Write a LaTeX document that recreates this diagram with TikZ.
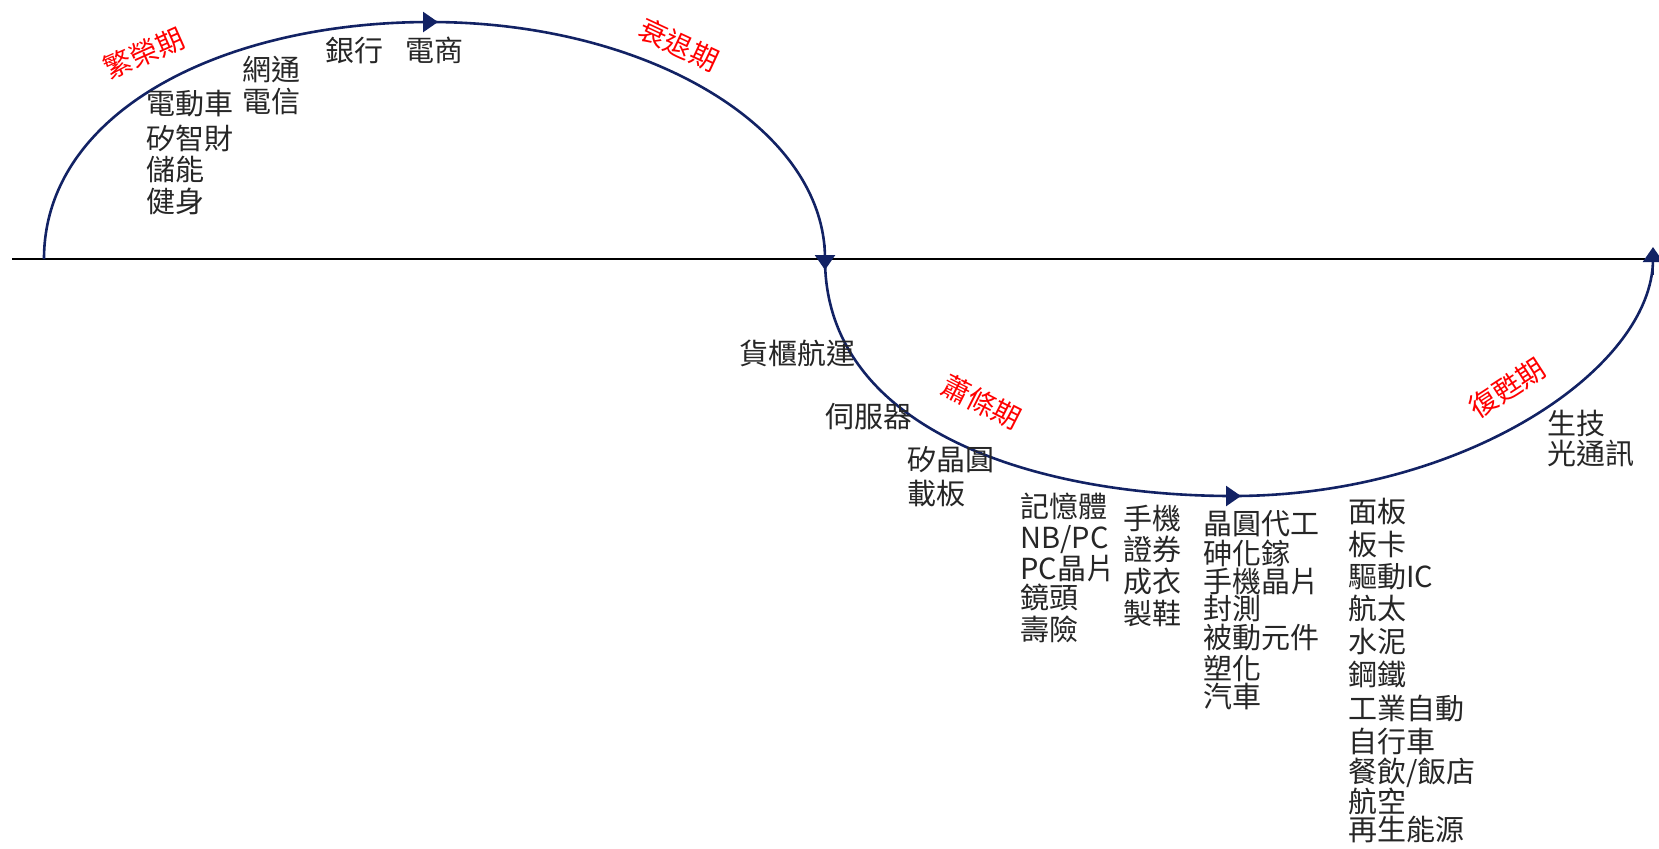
\documentclass[tikz,border=0pt]{standalone}
\usepackage{fontspec}
\newfontfamily\cjk{Noto Sans CJK TC}
\usetikzlibrary{arrows.meta}
\definecolor{navy}{RGB}{18,34,100}
\definecolor{txt}{RGB}{38,38,38}
\definecolor{phase}{RGB}{255,0,0}
\begin{document}
\begin{tikzpicture}[x=0.5pt,y=-0.5pt,
  item/.style={anchor=west,inner sep=0pt,text=txt,font=\cjk\fontsize{14.5pt}{16pt}\selectfont,text height=0.83em,text depth=0.07em},
  phaselbl/.style={inner sep=0pt,text=phase,font=\cjk\fontsize{14pt}{16pt}\selectfont},
  curve/.style={draw=navy,line width=1.3pt},
  tipline/.style={-{Triangle[length=7.5pt,width=10pt]},draw=navy,fill=navy,line width=1.3pt},
  axisline/.style={draw=black,line width=1pt}]
\useasboundingbox (0,0) rectangle (1659,848);
% key points
\coordinate (a0) at (44,259);
\coordinate (top) at (430,22);
\coordinate (mid) at (825,259);
\coordinate (bot) at (1233,496);
\coordinate (a1) at (1653,259);
\coordinate (axL) at (12,259);
\coordinate (axR) at (1645,259);
% axis
\draw[axisline] (axL) -- (axR);
% curves
\draw[curve] (a0) .. controls (44,112) and (222,22) .. (top)
             .. controls (648,22) and (825,128) .. (mid);
\draw[curve] (mid) .. controls (825,429) and (1033,496) .. (bot)
             .. controls (1463,496) and (1653,369) .. (a1);
% arrow tips
\coordinate (t1s) at (415,22);  \coordinate (t1e) at (438,22);
\coordinate (t2s) at (825,245); \coordinate (t2e) at (825,270);
\coordinate (t3s) at (1218,496); \coordinate (t3e) at (1241,496);
\coordinate (t4s) at (1653,275); \coordinate (t4e) at (1653,247);
\draw[tipline] (t1s) -- (t1e);
\draw[tipline] (t2s) -- (t2e);
\draw[tipline] (t3s) -- (t3e);
\draw[tipline] (t4s) -- (t4e);
% phase labels
\node[phaselbl,rotate=24] (p1) at (144,53) {繁榮期};
\node[phaselbl,rotate=-25] (p2) at (679,45) {衰退期};
\node[phaselbl,rotate=-27] (p3) at (982,402) {蕭條期};
\node[phaselbl,rotate=33] (p4) at (1507,388) {復甦期};
% boom
\node[item] (b1) at (242,73) {網通};
\node[item] (b2) at (242,105) {電信};
\node[item] (b3) at (146,107) {電動車};
\node[item] (b4) at (146,142) {矽智財};
\node[item] (b5) at (146,173) {儲能};
\node[item] (b6) at (146,205) {健身};
\node[item] (b7) at (325,54) {銀行};
\node[item] (b8) at (405,54) {電商};
% depression
\node[item] (d1) at (739,357) {貨櫃航運};
\node[item] (d2) at (825,420) {伺服器};
\node[item] (d3) at (907,463) {矽晶圓};
\node[item] (d4) at (907,497) {載板};
\node[item] (e1) at (1020,510) {記憶體};
\node[item] (e2) at (1020,541) {NB/PC};
\node[item] (e3) at (1020,572) {PC晶片};
\node[item] (e4) at (1020,601) {鏡頭};
\node[item] (e5) at (1020,633) {壽險};
\node[item] (f1) at (1123,522) {手機};
\node[item] (f2) at (1123,553) {證券};
\node[item] (f3) at (1123,585) {成衣};
\node[item] (f4) at (1123,617) {製鞋};
\node[item] (g1) at (1203,527) {晶圓代工};
\node[item] (g2) at (1203,557) {砷化鎵};
\node[item] (g3) at (1203,585) {手機晶片};
\node[item] (g4) at (1203,612) {封測};
\node[item] (g5) at (1203,641) {被動元件};
\node[item] (g6) at (1203,672) {塑化};
\node[item] (g7) at (1203,700) {汽車};
% recovery
\node[item] (h1) at (1348,515) {面板};
\node[item] (h2) at (1348,548) {板卡};
\node[item] (h3) at (1348,580) {驅動IC};
\node[item] (h4) at (1348,612) {航太};
\node[item] (h5) at (1348,645) {水泥};
\node[item] (h6) at (1348,678) {鋼鐵};
\node[item] (h7) at (1348,712) {工業自動};
\node[item] (h8) at (1348,745) {自行車};
\node[item] (h9) at (1348,775) {餐飲/飯店};
\node[item] (h10) at (1348,805) {航空};
\node[item] (h11) at (1348,833) {再生能源};
\node[item] (r1) at (1547,427) {生技};
\node[item] (r2) at (1547,457) {光通訊};
\end{tikzpicture}
\end{document}
